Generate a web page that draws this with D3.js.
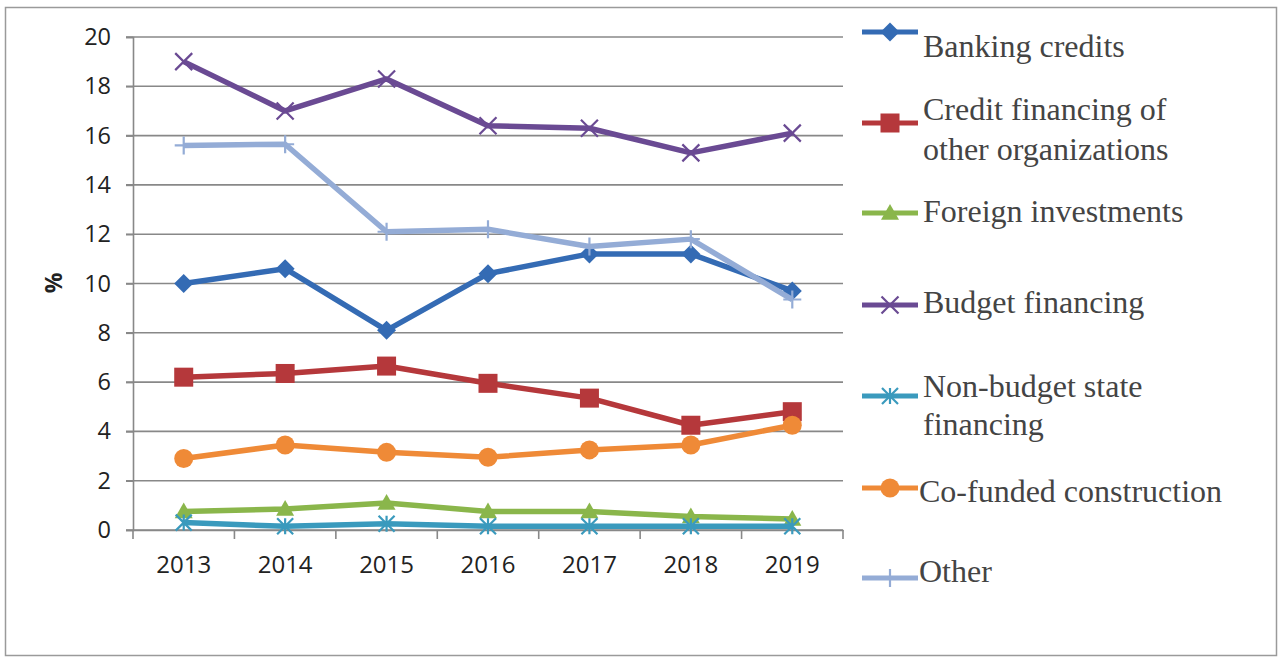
<!DOCTYPE html>
<html>
<head>
<meta charset="utf-8">
<script src="https://cdn.jsdelivr.net/npm/d3@7"></script>
<style>
  body { margin: 0; background: #fff; }
  svg { display: block; }
</style>
</head>
<body>
<div id="chart"></div>
<script>
const years = ['2013', '2014', '2015', '2016', '2017', '2018', '2019'];
const yTicks = [0, 2, 4, 6, 8, 10, 12, 14, 16, 18, 20];

const bankingCredits = [10.0, 10.6, 8.1, 10.4, 11.2, 11.2, 9.7];
const creditOtherOrgs = [6.2, 6.35, 6.65, 5.95, 5.35, 4.25, 4.8];
const foreignInvestments = [0.75, 0.85, 1.1, 0.75, 0.75, 0.55, 0.45];
const budgetFinancing = [19.0, 17.0, 18.3, 16.4, 16.3, 15.3, 16.1];
const nonBudgetState = [0.3, 0.15, 0.25, 0.15, 0.15, 0.15, 0.15];
const coFunded = [2.9, 3.45, 3.15, 2.95, 3.25, 3.45, 4.25];
const other = [15.6, 15.65, 12.1, 12.2, 11.5, 11.8, 9.35];

const seriesNames = [
    ['Banking credits'],
    ['Credit financing of', 'other organizations'],
    ['Foreign investments'],
    ['Budget financing'],
    ['Non-budget state', 'financing'],
    ['Co-funded construction'],
    ['Other']
];
const seriesValues = [bankingCredits, creditOtherOrgs, foreignInvestments, budgetFinancing, nonBudgetState, coFunded, other];
const seriesColors = ['#346bb4', '#b5383b', '#8ab64b', '#6a4a93', '#3a9abd', '#ef8a37', '#94acd6'];
const seriesMarkers = ['diamond', 'square', 'triangle', 'x', 'asterisk', 'circle', 'plus'];

// legend layout (marker y, text baselines, text x)
const legendMarkerY = [32, 123, 213, 305, 396, 488, 578];
const legendTextY = [[57], [120, 160], [222], [313], [397, 435], [502], [582]];
const legendTextX = [923, 923, 923, 923, 923, 919, 919];

const W = 1279, H = 657;
const plot = { left: 133, right: 843, top: 37, bottom: 530 };

const svg = d3.select('#chart').append('svg')
    .attr('width', W)
    .attr('height', H);

// outer frame
svg.append('rect')
    .attr('x', 5.5).attr('y', 7.5)
    .attr('width', 1271).attr('height', 648)
    .attr('fill', 'none')
    .attr('stroke', '#9a9a9a')
    .attr('stroke-width', 1.5);

const x = d3.scaleBand().domain(years).range([plot.left, plot.right]);
const y = d3.scaleLinear().domain([0, 20]).range([plot.bottom, plot.top]);
const cx = d => x(d) + x.bandwidth() / 2;

// gridlines
svg.append('g')
    .selectAll('line')
    .data(yTicks)
    .join('line')
    .attr('x1', plot.left - 7)
    .attr('x2', plot.right)
    .attr('y1', d => y(d))
    .attr('y2', d => y(d))
    .attr('stroke', '#888')
    .attr('stroke-width', 1.6);

// y axis
const yAxis = svg.append('g')
    .attr('transform', `translate(${plot.left},0)`)
    .call(d3.axisLeft(y).tickValues(yTicks).tickSize(7).tickPadding(15));
yAxis.select('.domain').attr('stroke', '#888').attr('stroke-width', 1.6);
yAxis.selectAll('.tick line').attr('stroke', '#888').attr('stroke-width', 1.6);
yAxis.selectAll('text')
    .attr('font-family', 'Open Sans, sans-serif')
    .attr('font-size', 23.5)
    .attr('fill', '#222');

// x axis
const xAxis = svg.append('g')
    .attr('transform', `translate(0,${plot.bottom})`)
    .call(d3.axisBottom(x).tickSize(0).tickPadding(26));
xAxis.select('.domain').attr('stroke', '#888').attr('stroke-width', 1.6);
xAxis.selectAll('text')
    .attr('font-family', 'Open Sans, sans-serif')
    .attr('font-size', 24)
    .attr('fill', '#222');

// x tick marks at band boundaries
svg.append('g')
    .selectAll('line')
    .data(years.concat(['end']))
    .join('line')
    .attr('x1', (d, i) => plot.left + i * x.step())
    .attr('x2', (d, i) => plot.left + i * x.step())
    .attr('y1', plot.bottom)
    .attr('y2', plot.bottom + 9)
    .attr('stroke', '#888')
    .attr('stroke-width', 1.6);

// y axis title
svg.append('text')
    .attr('transform', 'translate(62,283) rotate(-90)')
    .attr('text-anchor', 'middle')
    .attr('font-family', 'Open Sans, sans-serif')
    .attr('font-weight', 'bold')
    .attr('font-size', 23)
    .attr('fill', '#222')
    .text('%');

function drawMarker(g, type, px, py, color) {
    if (type === 'diamond') {
        const s = 9.5;
        g.append('path').attr('d', `M${px},${py - s}L${px + s},${py}L${px},${py + s}L${px - s},${py}Z`).attr('fill', color);
    } else if (type === 'square') {
        const s = 9.5;
        g.append('rect').attr('x', px - s).attr('y', py - s).attr('width', 2 * s).attr('height', 2 * s).attr('fill', color);
    } else if (type === 'triangle') {
        const s = 9;
        g.append('path').attr('d', `M${px},${py - s}L${px + s},${py + s * 0.75}L${px - s},${py + s * 0.75}Z`).attr('fill', color);
    } else if (type === 'circle') {
        g.append('circle').attr('cx', px).attr('cy', py).attr('r', 9.5).attr('fill', color);
    } else if (type === 'x') {
        const s = 8.5;
        g.append('path').attr('d', `M${px - s},${py - s}L${px + s},${py + s}M${px - s},${py + s}L${px + s},${py - s}`)
            .attr('stroke', color).attr('stroke-width', 2.2);
    } else if (type === 'asterisk') {
        const s = 8;
        g.append('path').attr('d', `M${px - s},${py - s}L${px + s},${py + s}M${px - s},${py + s}L${px + s},${py - s}M${px},${py - s}L${px},${py + s}`)
            .attr('stroke', color).attr('stroke-width', 2.2);
    } else if (type === 'plus') {
        const s = 9;
        g.append('path').attr('d', `M${px},${py - s}L${px},${py + s}M${px - s},${py}L${px + s},${py}`)
            .attr('stroke', color).attr('stroke-width', 2.2);
    }
}

const line = d3.line()
    .x((d, i) => cx(years[i]))
    .y(d => y(d));

seriesValues.forEach((vals, si) => {
    const g = svg.append('g');
    g.append('path')
        .datum(vals)
        .attr('d', line)
        .attr('fill', 'none')
        .attr('stroke', seriesColors[si])
        .attr('stroke-width', 5.5)
        .attr('stroke-linejoin', 'round');
    vals.forEach((v, i) => drawMarker(g, seriesMarkers[si], cx(years[i]), y(v), seriesColors[si]));
});

// legend
seriesNames.forEach((lines, si) => {
    const g = svg.append('g');
    const ly = legendMarkerY[si];
    g.append('line')
        .attr('x1', 862).attr('x2', 918)
        .attr('y1', ly).attr('y2', ly)
        .attr('stroke', seriesColors[si])
        .attr('stroke-width', 5);
    drawMarker(g, seriesMarkers[si], 890, ly, seriesColors[si]);
    lines.forEach((t, li) => {
        g.append('text')
            .attr('x', legendTextX[si])
            .attr('y', legendTextY[si][li])
            .attr('font-family', 'Liberation Serif, Times New Roman, serif')
            .attr('font-size', 32)
            .attr('fill', '#444')
            .text(t);
    });
});
</script>
</body>
</html>
